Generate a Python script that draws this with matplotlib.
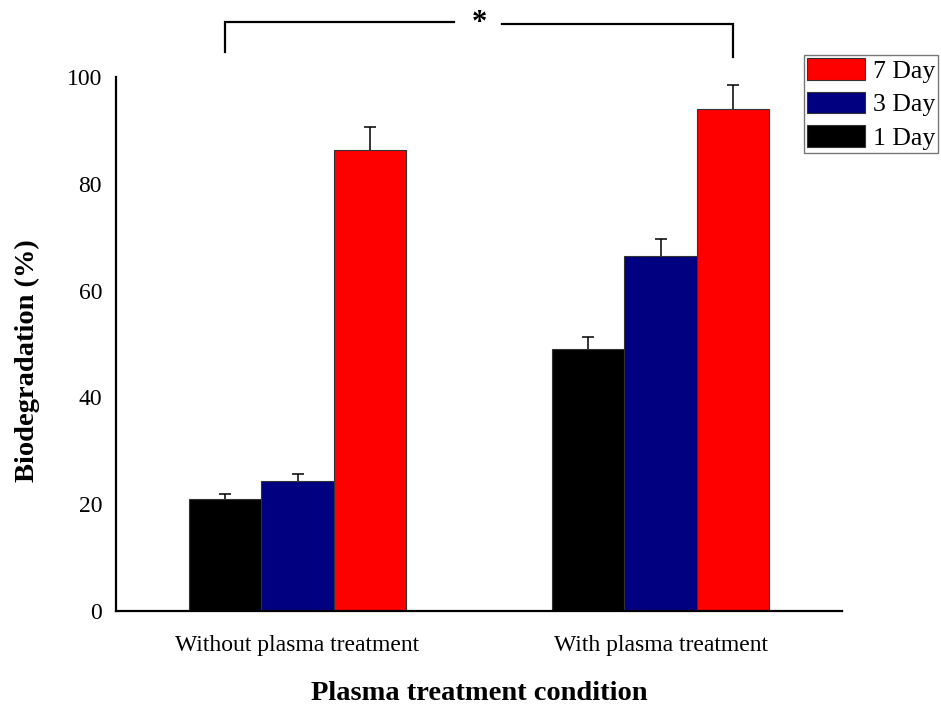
import matplotlib
matplotlib.use("Agg")
import matplotlib.pyplot as plt
import numpy as np

plt.rcParams['font.family'] = ['Liberation Serif', 'DejaVu Serif']

# data
groups = ['Without plasma treatment', 'With plasma treatment']
days = ['1 Day', '3 Day', '7 Day']
vals_1day = [21.0, 49.0]
vals_3day = [24.3, 66.5]
vals_7day = [86.3, 94.0]
err_1day = [1.0, 2.4]
err_3day = [1.3, 3.2]
err_7day = [4.3, 4.5]
colors = ['#000000', '#000080', '#ff0000']

fig = plt.figure(figsize=(9.41, 7.11), dpi=100)
ax = fig.add_axes([116 / 941, 0.1406, 726 / 941, 0.7511])

x = np.arange(len(groups))
w = 0.2
series = [vals_1day, vals_3day, vals_7day]
errs = [err_1day, err_3day, err_7day]
bars = []
for i in range(3):
    xs = x + (i - 1) * w
    top = np.array(series[i]) + np.array(errs[i])
    b = ax.bar(xs, series[i], w, color=colors[i], edgecolor='#333333',
               linewidth=0.8, label=days[i], zorder=2)
    # only the upper whisker with a cap, as in the original
    ax.vlines(xs, series[i], top, color='black', lw=1.1, zorder=3)
    ax.plot(xs, top, ls='none', marker='_', ms=9, mew=1.1, color='black', zorder=3)
    bars.append(b)

ax.set_xlim(-0.5, 1.5)
ax.set_ylim(0, 100)
ax.set_yticks([0, 20, 40, 60, 80, 100])
ax.set_xticks(x)
ax.set_xticklabels(groups, fontsize=17)
ax.tick_params(axis='y', length=0, pad=10, labelsize=17)
ax.tick_params(axis='x', length=0, pad=17)
for s in ['top', 'right']:
    ax.spines[s].set_visible(False)
for s in ['left', 'bottom']:
    ax.spines[s].set_linewidth(1.6)

ax.set_ylabel('Biodegradation (%)', fontsize=20.5, fontweight='bold')
ax.yaxis.set_label_coords(-0.104, 0.468)
ax.set_xlabel('Plasma treatment condition', fontsize=20.5, fontweight='bold', labelpad=18)

# significance bracket between 1 Day (without) and 7 Day (with)
xl = x[0] - w
xr = x[1] + w
xm = (xl + xr) / 2
ax.plot([xl, xl, xm - 0.07], [104.7, 110.3, 110.3], color='black', lw=1.6,
        clip_on=False, solid_joinstyle='miter')
ax.plot([xm + 0.063, xr, xr], [110.0, 110.0, 103.8], color='black', lw=1.6,
        clip_on=False, solid_joinstyle='miter')
ax.text(xm, 110.0, '*', ha='center', va='center', fontsize=22, fontweight='bold')

handles = [bars[2], bars[1], bars[0]]
leg = fig.legend(handles, ['7 Day', '3 Day', '1 Day'], loc='upper right',
                 bbox_to_anchor=(938 / 941, 1 - 55 / 711), fontsize=18.5, frameon=True,
                 fancybox=False, edgecolor='#555555', handlelength=2.26,
                 handleheight=0.93, labelspacing=0.34, borderpad=0.12,
                 handletextpad=0.3, borderaxespad=0.0)
leg.get_frame().set_linewidth(1.0)

fig.savefig('out.png', dpi=100)
